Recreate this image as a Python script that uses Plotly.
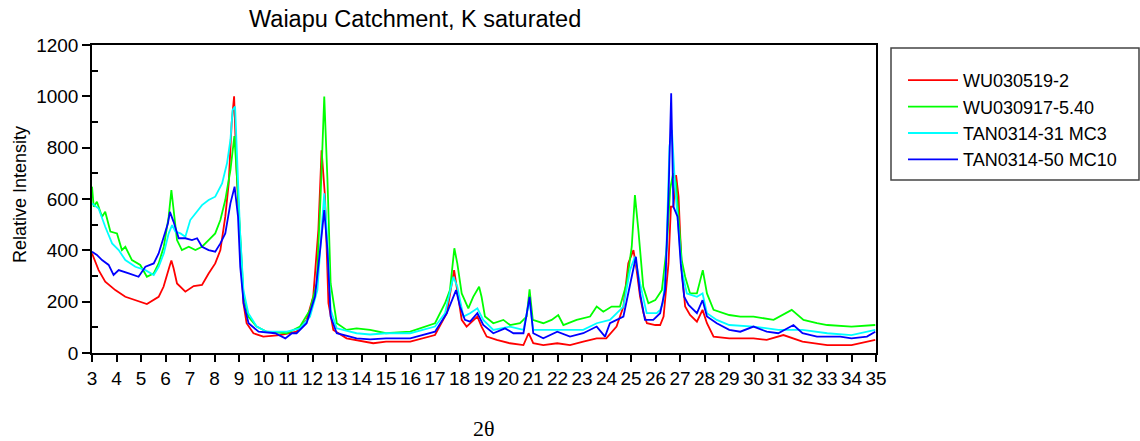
import plotly.graph_objects as go

# ---- data ----
red_x = [3.00,3.27,3.54,3.95,4.36,4.77,5.24,5.72,5.92,6.16,6.24,6.33,6.47,6.81,7.15,7.49,7.76,8.03,8.24,8.44,8.58,8.70,8.80,8.90,9.04,9.18,9.31,9.59,9.99,10.67,11.35,11.76,12.03,12.24,12.37,12.51,12.65,12.85,13.39,14.48,
         15.00,15.99,17.00,17.48,17.78,17.91,18.09,18.29,18.56,18.73,18.90,19.11,19.52,20.06,20.61,20.82,21.01,21.42,21.99,22.51,23.05,23.60,23.99,24.41,24.69,24.89,25.10,25.23,
         25.37,25.51,25.65,25.99,26.19,26.33,26.53,26.63,26.73,26.84,26.94,27.07,27.21,27.41,27.69,27.92,28.10,28.37,29.01,30.00,30.54,31.22,32.00,33.01,34.00,34.97]
red_y = [388,323,278,245,219,206,191,219,258,336,360,330,271,239,261,265,310,349,401,531,661,895,1000,713,427,194,116,77,64,70,83,129,220,480,790,610,194,90,57,38,
         44,44,70,155,323,245,129,103,129,142,103,64,51,38,31,77,38,31,38,31,44,57,57,103,181,350,401,323,
         220,155,116,109,109,142,349,570,570,693,609,323,181,148,122,168,116,64,57,57,51,70,44,31,31,51]

green_x = [3.00,3.07,3.20,3.41,3.54,3.75,4.02,4.22,4.36,4.63,4.97,5.24,5.52,5.72,5.93,6.13,6.24,6.33,6.47,6.67,6.95,7.22,7.49,7.76,8.03,8.24,8.44,8.65,8.81,8.90,9.04,9.18,9.38,9.72,10.13,10.95,11.49,11.90,12.17,12.33,12.48,12.61,12.74,12.99,13.39,13.80,14.35,
           15.00,15.99,17.00,17.41,17.61,17.79,17.91,18.09,18.36,18.56,18.80,18.90,19.04,19.38,19.79,20.06,20.47,20.74,20.86,20.99,21.42,21.76,22.03,22.24,22.78,23.33,23.60,23.87,24.21,24.55,24.82,25.03,25.16,25.30,25.50,
           25.71,25.99,26.26,26.46,26.60,26.72,26.84,26.94,27.07,27.21,27.41,27.69,27.93,28.10,28.37,29.01,29.46,30.00,30.82,31.56,32.04,32.59,33.01,34.00,34.97]
green_y = [648,570,589,531,550,473,466,401,414,362,343,297,310,349,414,531,635,557,440,401,414,401,414,440,466,518,596,713,845,713,480,232,142,103,83,77,103,168,271,609,999,674,271,116,90,96,90,
           77,83,116,194,245,408,349,232,174,219,258,219,142,116,129,109,116,142,248,129,116,129,148,109,129,142,181,161,181,181,271,414,615,480,258,
           194,206,245,414,640,700,661,531,362,297,232,232,323,232,168,148,142,142,129,168,129,116,109,103,109]

cyan_x = [3.00,3.27,3.54,3.82,4.09,4.36,4.77,5.18,5.52,5.72,5.93,6.13,6.27,6.40,6.61,6.81,7.01,7.22,7.49,7.76,8.03,8.31,8.51,8.65,8.74,8.84,8.90,9.04,9.18,9.38,9.72,10.13,10.95,11.49,11.90,12.20,12.37,12.48,12.58,12.74,12.99,13.80,14.35,
          15.00,15.99,17.00,17.41,17.75,17.91,18.16,18.43,18.73,18.97,19.38,20.06,20.61,20.85,21.01,21.69,22.51,23.05,23.60,24.14,24.69,24.96,25.16,25.37,25.64,26.05,
          26.19,26.30,26.42,26.57,26.67,26.80,26.94,27.07,27.28,27.69,27.92,28.10,28.50,29.01,30.00,31.01,32.00,33.01,34.00,34.97]
cyan_y = [583,563,492,427,401,362,336,323,304,336,388,466,498,473,466,453,518,544,576,596,609,661,739,830,947,960,804,480,245,155,103,83,83,96,142,245,480,622,480,168,96,77,72,
          77,77,103,155,297,258,142,155,174,129,90,103,90,206,90,90,90,90,116,129,181,323,375,271,155,155,
          168,194,323,804,869,648,480,323,232,219,232,155,129,109,103,90,90,77,70,90]

blue_x = [3.00,3.20,3.41,3.68,3.88,4.09,4.50,4.90,5.18,5.52,5.72,5.93,6.10,6.18,6.33,6.54,6.81,7.08,7.29,7.49,7.76,8.03,8.24,8.44,8.65,8.82,8.96,9.05,9.19,9.39,9.80,10.48,10.89,11.16,11.35,11.76,12.10,12.31,12.48,12.61,12.74,12.99,13.80,14.35,
          15.00,15.99,17.00,17.48,17.86,18.02,18.22,18.43,18.73,18.97,19.38,19.86,20.20,20.61,20.86,21.01,21.42,21.99,22.51,23.05,23.60,23.94,24.14,24.69,25.03,25.20,25.37,25.57,25.91,
          26.19,26.39,26.53,26.64,26.73,26.90,27.03,27.17,27.35,27.69,27.92,28.10,28.50,29.01,29.46,30.00,30.54,31.01,31.63,32.00,32.59,33.01,33.54,34.00,34.63,34.97]
blue_y = [395,382,362,343,304,323,310,297,336,349,388,453,505,550,511,447,447,440,447,414,401,395,427,466,583,648,531,336,193,116,83,77,57,77,77,116,220,401,557,401,142,77,57,53,
          57,57,83,155,245,181,129,122,155,109,77,96,77,77,219,77,57,83,64,77,103,64,116,142,297,375,232,129,129,
          155,245,609,1012,570,531,349,219,187,155,206,142,116,90,83,103,83,77,109,77,64,64,64,57,64,83]

series_names = ["WU030519-2", "WU030917-5.40", "TAN0314-31 MC3", "TAN0314-50 MC10"]
series_colors = ["#FF0000", "#00FF00", "#00FFFF", "#0000FF"]
x_ticks = list(range(3, 36))
y_ticks = list(range(0, 1201, 200))

# ---- figure ----
L, R, T, B = 92, 264, 45, 88
W, H = 1140, 441
pw, ph = W - L - R, H - T - B
def px_x(p):
    return (p - L) / pw
def px_y(p):
    return (H - B - p) / ph

FONT = "Liberation Sans, Arial, sans-serif"
fig = go.Figure()
for xs, ys, name, col in zip([red_x, green_x, cyan_x, blue_x], [red_y, green_y, cyan_y, blue_y], series_names, series_colors):
    fig.add_trace(go.Scatter(x=xs, y=ys, mode="lines", name=name,
                             line=dict(color=col, width=1.8)))

fig.update_layout(
    width=W, height=H,
    margin=dict(l=L, r=R, t=T, b=B),
    plot_bgcolor="white", paper_bgcolor="white",
    font=dict(family=FONT, size=19, color="black"),
    showlegend=True,
    legend=dict(x=px_x(903), y=px_y(62), xanchor="left", yanchor="top",
                bgcolor="rgba(0,0,0,0)", borderwidth=0, itemwidth=50,
                font=dict(size=18, family=FONT), tracegroupgap=0),
    xaxis=dict(range=[3, 35], tickvals=x_ticks, ticktext=[str(v) for v in x_ticks],
               ticks="outside", ticklen=7, tickwidth=1.5, tickcolor="black",
               showline=True, linecolor="black", linewidth=1.5, mirror=True,
               showgrid=False, zeroline=False, tickfont=dict(size=19)),
    yaxis=dict(range=[0, 1200], tickvals=y_ticks, ticks="outside", ticklen=8, tickwidth=1.5,
               tickcolor="black", showline=True, linecolor="black", linewidth=1.5, mirror=True,
               showgrid=False, zeroline=False, tickfont=dict(size=19),
               minor=dict(ticks="inside", tickvals=list(range(100, 1200, 200)), ticklen=6,
                          tickwidth=1.5, tickcolor="black", showgrid=False)),
    yaxis2=dict(range=[0, 1200], overlaying="y", side="right", anchor="x",
                tickvals=list(range(100, 1200, 200)), ticks="inside", ticklen=6, tickwidth=1.5,
                tickcolor="black", showticklabels=False, showgrid=False, zeroline=False,
                showline=False),
)

# legend frame
fig.add_shape(type="rect", xref="paper", yref="paper",
              x0=px_x(891), x1=px_x(1139), y0=px_y(180), y1=px_y(48),
              line=dict(color="#444444", width=1.5), fillcolor="rgba(0,0,0,0)")

# titles
fig.add_annotation(text="Waiapu Catchment, K saturated", xref="paper", yref="paper",
                   x=px_x(247), y=px_y(19), xanchor="left", yanchor="middle",
                   showarrow=False, font=dict(size=23.5, family=FONT))
fig.add_annotation(text="Relative Intensity", xref="paper", yref="paper",
                   x=px_x(20), y=px_y(195), xanchor="center", yanchor="middle", textangle=-90,
                   showarrow=False, font=dict(size=18, family=FONT))
fig.add_annotation(text="2θ", xref="paper", yref="paper",
                   x=px_x(484), y=px_y(428), xanchor="center", yanchor="middle",
                   showarrow=False, font=dict(size=22, family="Liberation Serif, Times New Roman, serif"))

fig.write_html("out.html")
